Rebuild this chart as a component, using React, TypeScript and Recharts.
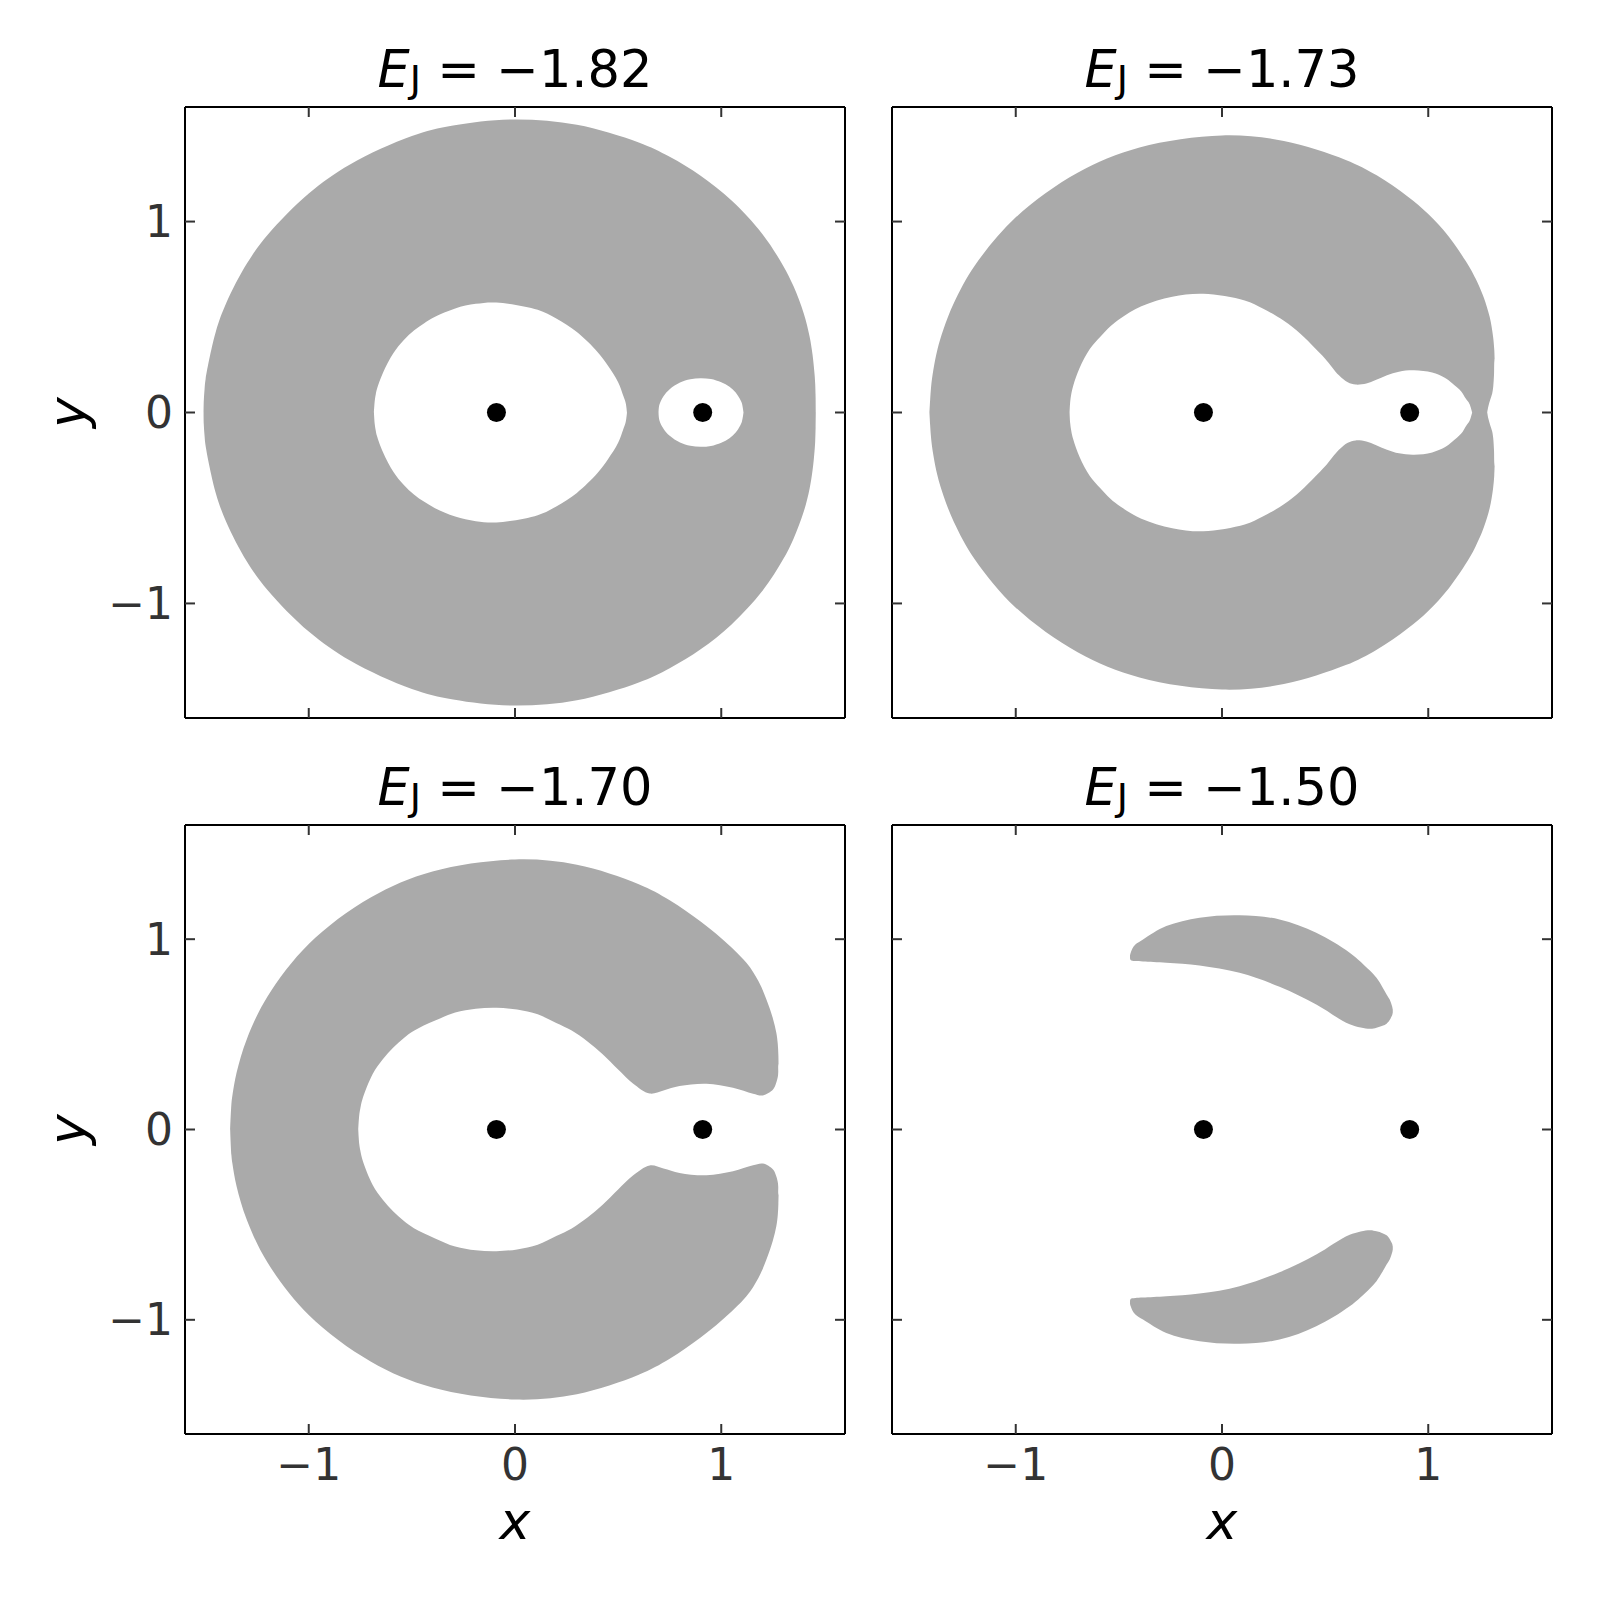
import React from 'react';
import { ComposedChart, Area, Scatter, XAxis, YAxis } from 'recharts';

// the two point masses on the x-axis
const massX = [-0.09, 0.91];
const massY = [0, 0];

const titles = ['\u22121.82', '\u22121.73', '\u22121.70', '\u22121.50'];
const axisTicks = [-1, 0, 1];

// E_J = -1.82 : outer edge of the grey ring (upper half) and two holes
const outer1X = [-1.51, -1.509, -1.505, -1.5, -1.45, -1.4, -1.3, -1.2, -1.0, -0.8, -0.5, -0.3, 0, 0.3, 0.6, 0.75, 0.9, 1.05, 1.2, 1.3, 1.35, 1.4, 1.428, 1.443, 1.4524, 1.4555, 1.457, 1.4575, 1.4583];
const outer1Top = [0, 0.06, 0.125, 0.176, 0.425, 0.573, 0.78, 0.929, 1.147, 1.299, 1.448, 1.503, 1.535, 1.507, 1.414, 1.339, 1.24, 1.11, 0.934, 0.769, 0.662, 0.519, 0.4, 0.3, 0.2, 0.15, 0.1, 0.08, 0];
const hole1X = [-0.684, -0.68, -0.675, -0.67, -0.64, -0.59, -0.54, -0.49, -0.44, -0.39, -0.29, -0.19, -0.09, 0.11, 0.2, 0.3, 0.4, 0.45, 0.5, 0.525, 0.537, 0.543];
const hole1Top = [0, 0.061, 0.095, 0.12, 0.208, 0.31, 0.378, 0.429, 0.468, 0.5, 0.545, 0.569, 0.576, 0.538, 0.492, 0.421, 0.317, 0.246, 0.159, 0.088, 0.049, 0];
const lobe1X = [0.696, 0.7, 0.72, 0.75, 0.8, 0.85, 0.9, 0.95, 1.0, 1.04, 1.07, 1.09, 1.1, 1.108];
const lobe1Top = [0, 0.04, 0.085, 0.122, 0.157, 0.174, 0.18, 0.175, 0.158, 0.135, 0.105, 0.072, 0.048, 0];

// E_J = -1.73
const outer2X = [-1.4185, -1.415, -1.41, -1.4, -1.38, -1.35, -1.3, -1.2, -1.0, -0.7, -0.4, 0, 0.3, 0.6, 0.75, 0.9, 1.0, 1.1, 1.2, 1.23, 1.25, 1.27, 1.298, 1.314, 1.32, 1.322];
const outer2Top = [0, 0.067, 0.14, 0.22, 0.329, 0.437, 0.573, 0.767, 1.022, 1.256, 1.388, 1.451, 1.422, 1.323, 1.242, 1.131, 1.039, 0.92, 0.761, 0.7, 0.654, 0.6, 0.5, 0.4, 0.33, 0.275];
const hole2X = [-0.739, -0.736, -0.731, -0.721, -0.691, -0.641, -0.591, -0.541, -0.491, -0.391, -0.241, -0.091, 0.11, 0.2, 0.3, 0.38, 0.45, 0.5, 0.567, 0.61, 0.648, 0.7, 0.745, 0.8, 0.858, 0.931, 1.019, 1.08, 1.116, 1.16, 1.181, 1.2, 1.213];
const hole2Top = [0, 0.056, 0.095, 0.142, 0.232, 0.333, 0.396, 0.452, 0.494, 0.556, 0.606, 0.622, 0.587, 0.544, 0.48, 0.412, 0.338, 0.282, 0.195, 0.158, 0.146, 0.152, 0.17, 0.195, 0.214, 0.221, 0.209, 0.182, 0.153, 0.11, 0.074, 0.045, 0];
const notch2X = [1.286, 1.291, 1.3, 1.31, 1.315, 1.319, 1.322, 1.33];
const notch2Top = [0, 0.03, 0.065, 0.1, 0.135, 0.2, 0.275, 0.3];

// E_J = -1.70
const outer3X = [-1.381, -1.375, -1.37, -1.35, -1.3, -1.2, -1.0, -0.7, -0.4, 0, 0.3, 0.6, 0.75, 0.9, 1.0, 1.122, 1.18, 1.219, 1.25, 1.267, 1.274, 1.277, 1.278];
const outer3Top = [0, 0.134, 0.18, 0.298, 0.476, 0.699, 0.975, 1.219, 1.356, 1.419, 1.391, 1.289, 1.205, 1.093, 1.005, 0.876, 0.78, 0.683, 0.585, 0.508, 0.45, 0.39, 0.34];
const hole3X = [-0.76, -0.755, -0.75, -0.74, -0.69, -0.64, -0.59, -0.54, -0.49, -0.39, -0.29, -0.19, -0.09, 0.01, 0.11, 0.2, 0.275, 0.35, 0.425, 0.5, 0.572, 0.653, 0.72, 0.798, 0.928, 1.057, 1.154, 1.202, 1.251, 1.265, 1.273, 1.277, 1.278, 1.29];
const hole3Top = [0, 0.077, 0.11, 0.157, 0.291, 0.37, 0.431, 0.48, 0.519, 0.571, 0.615, 0.635, 0.64, 0.63, 0.605, 0.56, 0.52, 0.464, 0.395, 0.315, 0.242, 0.189, 0.205, 0.228, 0.24, 0.219, 0.188, 0.179, 0.21, 0.24, 0.27, 0.3, 0.34, 0.36];

// E_J = -1.50 : upper crescent (the lower one is its mirror image)
const cresX = [-0.446, -0.443, -0.435, -0.42, -0.383, -0.27, -0.109, 0.085, 0.279, 0.457, 0.619, 0.717, 0.749, 0.778, 0.798, 0.813, 0.82, 0.825, 0.828];
const cresHi = [0.915, 0.928, 0.95, 0.972, 0.999, 1.069, 1.113, 1.126, 1.104, 1.034, 0.929, 0.835, 0.797, 0.748, 0.71, 0.683, 0.663, 0.646, 0.63];
const cresLo = [0.9, 0.891, 0.887, 0.885, 0.883, 0.876, 0.862, 0.823, 0.75, 0.657, 0.553, 0.529, 0.535, 0.545, 0.556, 0.575, 0.59, 0.6, 0.615];

const GRAY = '#aaaaaa';
const WHITE = '#ffffff';

const mirror = (xs: number[], ys: number[]) => xs.map((x, i) => ({ x, band: [-ys[i], ys[i]] }));
const ranged = (xs: number[], lo: number[], hi: number[]) => xs.map((x, i) => ({ x, band: [lo[i], hi[i]] }));

const masses = massX.map((x, i) => ({ x, y: massY[i] }));

const fmtTick = (v: number) => (v < 0 ? `\u2212${-v}` : `${v}`);
const noLabel = () => '';

// centripetal catmull-rom, so the contour edges come out round
function catmull(context: any) {
  let pts: number[][] = [];
  let line = NaN;
  return {
    areaStart() { line = 0; },
    areaEnd() { line = NaN; },
    lineStart() { pts = []; },
    point(x: number, y: number) { pts.push([+x, +y]); },
    lineEnd() {
      const n = pts.length;
      if (n) {
        if (line) context.lineTo(pts[0][0], pts[0][1]);
        else context.moveTo(pts[0][0], pts[0][1]);
        for (let i = 0; i < n - 1; i++) {
          const p0 = pts[i - 1] || pts[i];
          const p1 = pts[i];
          const p2 = pts[i + 1];
          const p3 = pts[i + 2] || pts[i + 1];
          const d01 = Math.hypot(p1[0] - p0[0], p1[1] - p0[1]);
          const d12 = Math.hypot(p2[0] - p1[0], p2[1] - p1[1]);
          const d23 = Math.hypot(p3[0] - p2[0], p3[1] - p2[1]);
          const a01 = Math.sqrt(d01), a12 = Math.sqrt(d12), a23 = Math.sqrt(d23);
          let c1x = p1[0], c1y = p1[1], c2x = p2[0], c2y = p2[1];
          if (a01 > 1e-6) {
            const a = 2 * d01 + 3 * a01 * a12 + d12;
            const m = 3 * a01 * (a01 + a12);
            c1x = (p1[0] * a - p0[0] * d12 + p2[0] * d01) / m;
            c1y = (p1[1] * a - p0[1] * d12 + p2[1] * d01) / m;
          }
          if (a23 > 1e-6) {
            const b = 2 * d23 + 3 * a23 * a12 + d12;
            const m = 3 * a23 * (a23 + a12);
            c2x = (p2[0] * b + p1[0] * d23 - p3[0] * d12) / m;
            c2y = (p2[1] * b + p1[1] * d23 - p3[1] * d12) / m;
          }
          context.bezierCurveTo(c1x, c1y, c2x, c2y, p2[0], p2[1]);
        }
      }
      if (line || (line !== 0 && n === 1)) context.closePath();
      line = 1 - line;
    },
  };
}

const PW = 660;
const ML = 120, MR = 20, MT = 20, MB = 80;

const panels = [
  {
    left: 185, top: 107, h: 611, title: titles[0], showX: false, showY: true,
    fills: [
      { data: mirror(outer1X, outer1Top), color: GRAY },
      { data: mirror(hole1X, hole1Top), color: WHITE },
      { data: mirror(lobe1X, lobe1Top), color: WHITE },
    ],
  },
  {
    left: 892, top: 107, h: 611, title: titles[1], showX: false, showY: false,
    fills: [
      { data: mirror(outer2X, outer2Top), color: GRAY },
      { data: mirror(hole2X, hole2Top), color: WHITE },
      { data: mirror(notch2X, notch2Top), color: WHITE },
    ],
  },
  {
    left: 185, top: 825, h: 609, title: titles[2], showX: true, showY: true,
    fills: [
      { data: mirror(outer3X, outer3Top), color: GRAY },
      { data: mirror(hole3X, hole3Top), color: WHITE },
    ],
  },
  {
    left: 892, top: 825, h: 609, title: titles[3], showX: true, showY: false,
    fills: [
      { data: ranged(cresX, cresLo, cresHi), color: GRAY },
      { data: ranged(cresX, cresHi.map((v) => -v), cresLo.map((v) => -v)), color: GRAY },
    ],
  },
];

const axisLine = { stroke: '#000', strokeWidth: 2 };
const tickLine = { stroke: '#333', strokeWidth: 2 };
const tickFont = { fontSize: 44, fill: '#333', fontFamily: 'DejaVu Sans' };

function Panel({ p }: { p: (typeof panels)[number] }) {
  return (
    <div style={{ position: 'absolute', left: p.left - ML, top: p.top - MT }}>
      <ComposedChart width={PW + ML + MR} height={p.h + MT + MB}
        margin={{ top: MT - 1, right: MR - 1, bottom: MB - 1, left: ML - 1 }}>
        <XAxis xAxisId="b" dataKey="x" type="number" domain={[-1.6, 1.6]} allowDataOverflow ticks={axisTicks} interval={0}
          orientation="bottom" height={1} tickSize={-10} tickMargin={25} axisLine={axisLine} tickLine={tickLine}
          tick={tickFont} tickFormatter={p.showX ? fmtTick : noLabel} />
        <XAxis xAxisId="t" dataKey="x" type="number" domain={[-1.6, 1.6]} allowDataOverflow ticks={axisTicks} interval={0}
          orientation="top" height={1} tickSize={-10} axisLine={axisLine} tickLine={tickLine} tickFormatter={noLabel} />
        <YAxis yAxisId="l" dataKey="y" type="number" domain={[-1.6, 1.6]} allowDataOverflow ticks={axisTicks} interval={0}
          orientation="left" width={1} tickSize={-10} tickMargin={22} axisLine={axisLine} tickLine={tickLine}
          tick={tickFont} tickFormatter={p.showY ? fmtTick : noLabel} />
        <YAxis yAxisId="r" dataKey="y" type="number" domain={[-1.6, 1.6]} allowDataOverflow ticks={axisTicks} interval={0}
          orientation="right" width={1} tickSize={-10} axisLine={axisLine} tickLine={tickLine} tickFormatter={noLabel} />
        {p.fills.map((f, i) => (
          <Area key={i} xAxisId="b" yAxisId="l" data={f.data} dataKey="band" type={catmull as any}
            fill={f.color} fillOpacity={1} stroke="none" isAnimationActive={false} />
        ))}
        <Scatter xAxisId="b" yAxisId="l" data={masses} isAnimationActive={false}
          shape={(s: any) => <circle cx={s.cx} cy={s.cy} r={9.5} fill="#000" />} />
      </ComposedChart>
    </div>
  );
}

export default function App() {
  return (
    <div style={{ position: 'absolute', left: 0, top: 0, width: 1600, height: 1600, background: '#fff' }}>
      {panels.map((p, i) => (
        <Panel key={i} p={p} />
      ))}
      <svg width={1600} height={1600} style={{ position: 'absolute', left: 0, top: 0, pointerEvents: 'none' }}
        fontFamily="DejaVu Sans">
        {panels.map((p, i) => (
          <text key={i} x={p.left + PW / 2} y={p.top - 20} textAnchor="middle" fontSize={51} fill="#000">
            <tspan fontStyle="italic">E</tspan>
            <tspan fontSize={38} dy={5}>J</tspan>
            <tspan dy={-5}>{` = ${p.title}`}</tspan>
          </text>
        ))}
        {panels.filter((p) => p.showX).map((p, i) => (
          <text key={'x' + i} x={p.left + PW / 2} y={1539} textAnchor="middle" fontSize={52} fontStyle="italic" fill="#000">x</text>
        ))}
        {panels.filter((p) => p.showY).map((p, i) => (
          <text key={'y' + i} x={85} y={p.top + p.h / 2} transform={`rotate(-90 85 ${p.top + p.h / 2})`}
            textAnchor="middle" fontSize={52} fontStyle="italic" fill="#000">y</text>
        ))}
      </svg>
    </div>
  );
}
